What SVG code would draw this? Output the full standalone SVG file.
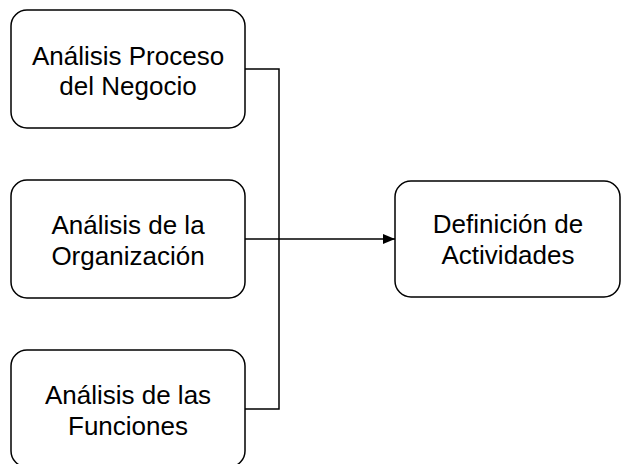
<svg xmlns="http://www.w3.org/2000/svg" width="621" height="464" viewBox="0 0 621 464">
<style>
.box{fill:#fff;stroke:#000;stroke-width:1.5}
.lbl{font-family:"Liberation Sans",Arial,sans-serif;font-size:26px;fill:#000;text-anchor:middle}
.con{fill:none;stroke:#000;stroke-width:1.5}
</style>
<defs>
<marker id="arr" viewBox="0 0 12 10" refX="12" refY="5" markerWidth="12" markerHeight="10" markerUnits="userSpaceOnUse" orient="auto">
<path d="M0,0 L12,5 L0,10 Z" fill="#000"/>
</marker>
</defs>
<rect width="621" height="464" fill="#fff"/>
<g id="connectors">
<path class="con" d="M245,69 H279 V409 H245"/>
<path class="con" d="M245,239 H395" marker-end="url(#arr)"/>
</g>
<g id="n1">
<rect class="box" x="11" y="10" width="234" height="118" rx="16"/>
<text class="lbl" x="128" y="65">Análisis Proceso</text>
<text class="lbl" x="128" y="95">del Negocio</text>
</g>
<g id="n2">
<rect class="box" x="11" y="180" width="234" height="118" rx="16"/>
<text class="lbl" x="128" y="234">Análisis de la</text>
<text class="lbl" x="128" y="265">Organización</text>
</g>
<g id="n3">
<rect class="box" x="11" y="350" width="234" height="117" rx="16"/>
<text class="lbl" x="128" y="404">Análisis de las</text>
<text class="lbl" x="128" y="435">Funciones</text>
</g>
<g id="n4">
<rect class="box" x="395" y="181" width="225" height="116" rx="16"/>
<text class="lbl" x="508" y="233">Definición de</text>
<text class="lbl" x="508" y="264">Actividades</text>
</g>
</svg>
